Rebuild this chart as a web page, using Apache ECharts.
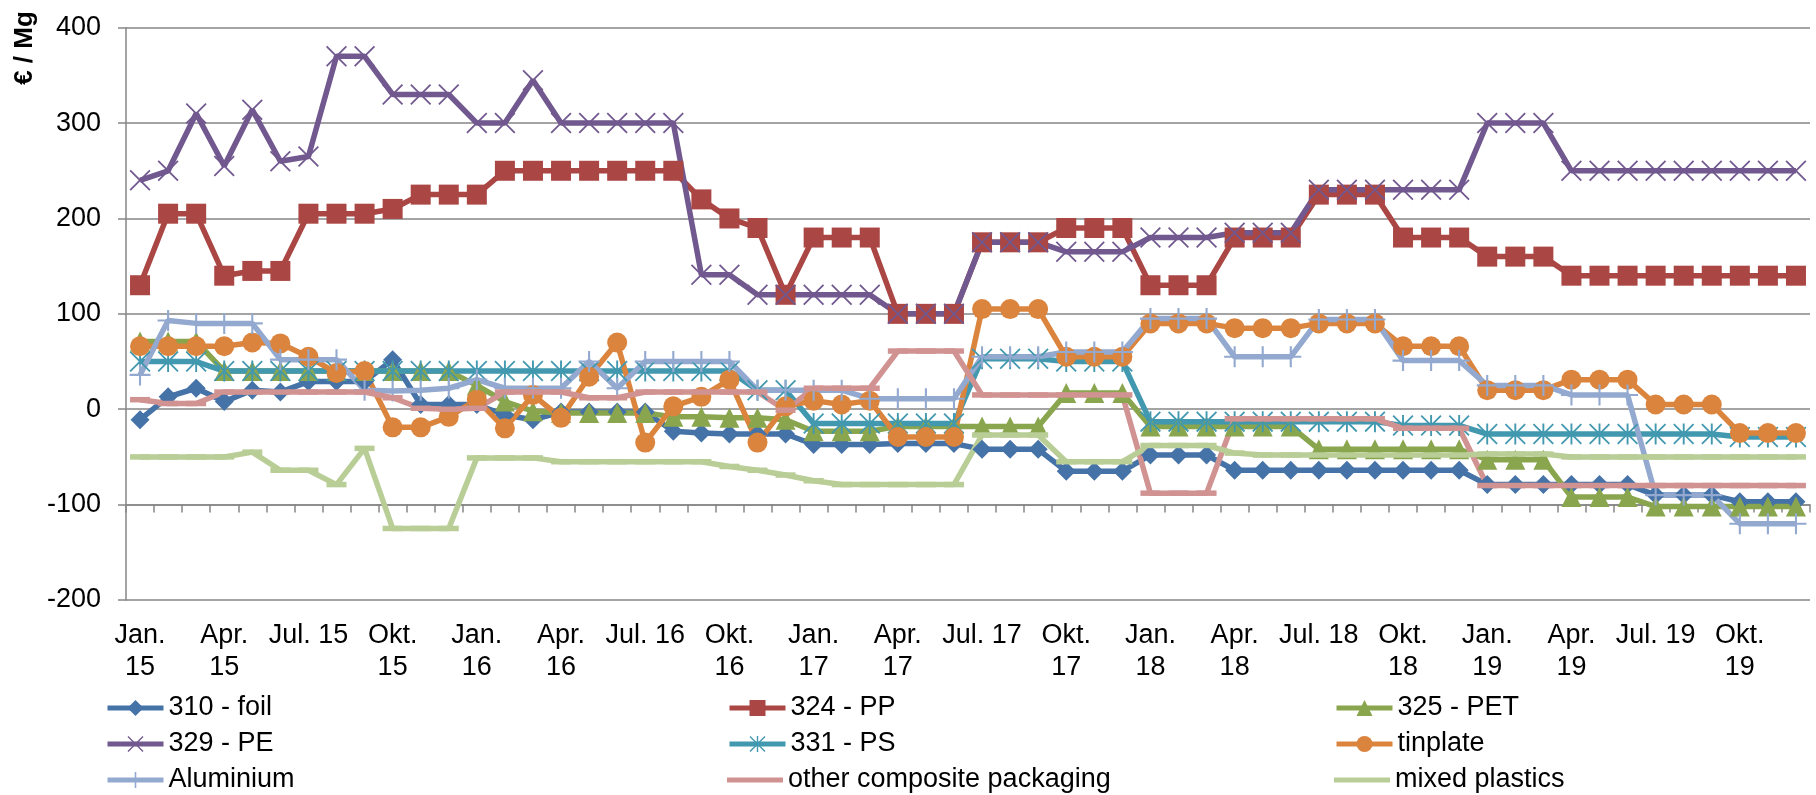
<!DOCTYPE html>
<html>
<head>
<meta charset="utf-8">
<script src="https://cdn.jsdelivr.net/npm/echarts@6/dist/echarts.min.js"></script>
<style>
html, body { margin: 0; padding: 0; background: #fff; }
#chart { width: 1816px; height: 795px; }
</style>
</head>
<body>
<div id="chart"></div>
<script>
// months Jan. 15 .. Dez. 19
const monthNames = ['Jan.', 'Feb.', 'Mär.', 'Apr.', 'Mai', 'Jun.', 'Jul.', 'Aug.', 'Sep.', 'Okt.', 'Nov.', 'Dez.'];
const years = ['15', '16', '17', '18', '19'];
const months = [];
years.forEach(y => monthNames.forEach(m => months.push(m + ' ' + y)));

// shown every 3rd month, wrapped like the original
const tickLabels = [
	'Jan.\n15', 'Apr.\n15', 'Jul. 15', 'Okt.\n15',
	'Jan.\n16', 'Apr.\n16', 'Jul. 16', 'Okt.\n16',
	'Jan.\n17', 'Apr.\n17', 'Jul. 17', 'Okt.\n17',
	'Jan.\n18', 'Apr.\n18', 'Jul. 18', 'Okt.\n18',
	'Jan.\n19', 'Apr.\n19', 'Jul. 19', 'Okt.\n19'
];

const foil = [
	-11, 13, 22, 8, 20, 18, 29, 29, 29, 52, 5, 5,
	5, -6, -11, -3, -3, -3, -3, -23, -25, -26, -26, -26,
	-37, -37, -37, -36, -36, -36, -42, -42, -42, -65, -65, -65,
	-48, -48, -48, -64, -64, -64, -64, -64, -64, -64, -64, -64,
	-79, -79, -79, -79, -79, -79, -90, -90, -90, -97, -97, -97
];
const pp = [
	130, 205, 205, 140, 145, 145, 205, 205, 205, 210, 225, 225,
	225, 250, 250, 250, 250, 250, 250, 250, 220, 200, 190, 120,
	180, 180, 180, 100, 100, 100, 175, 175, 175, 190, 190, 190,
	130, 130, 130, 180, 180, 180, 225, 225, 225, 180, 180, 180,
	160, 160, 160, 140, 140, 140, 140, 140, 140, 140, 140, 140
];
const pet = [
	71, 71, 71, 40, 40, 40, 40, 40, 40, 40, 40, 40,
	25, 8, -2, -4, -4, -4, -4, -8, -8, -9, -9, -11,
	-23, -23, -23, -18, -18, -18, -18, -18, -18, 17, 17, 17,
	-18, -18, -18, -18, -18, -18, -42, -42, -42, -42, -42, -42,
	-53, -53, -53, -92, -92, -92, -102, -102, -102, -102, -102, -102
];
const pe = [
	240, 250, 310, 255, 314, 260, 265, 370, 370, 330, 330, 330,
	300, 300, 345, 300, 300, 300, 300, 300, 141, 141, 120, 120,
	120, 120, 120, 100, 100, 100, 175, 175, 175, 165, 165, 165,
	180, 180, 180, 185, 185, 185, 230, 230, 230, 230, 230, 230,
	300, 300, 300, 250, 250, 250, 250, 250, 250, 250, 250, 250
];
const ps = [
	50, 50, 50, 40, 40, 40, 40, 40, 40, 40, 40, 40,
	40, 40, 40, 40, 40, 40, 40, 40, 40, 40, 20, 20,
	-15, -15, -15, -15, -15, -15, 53, 53, 53, 50, 50, 50,
	-13, -13, -13, -13, -13, -13, -13, -13, -13, -17, -17, -17,
	-26, -26, -26, -26, -26, -26, -26, -26, -26, -29, -29, -29
];
const tinplate = [
	66, 66, 66, 66, 70, 69, 55, 38, 40, -19, -19, -8,
	10, -20, 15, -9, 34, 70, -35, 3, 13, 31, -35, 3,
	9, 5, 9, -29, -29, -29, 105, 105, 105, 55, 55, 55,
	90, 90, 90, 85, 85, 85, 90, 90, 90, 66, 66, 66,
	20, 20, 20, 31, 31, 31, 5, 5, 5, -25, -25, -25
];
const aluminium = [
	36, 93, 90, 90, 90, 52, 52, 52, 20, 19, 20, 22,
	31, 22, 22, 22, 50, 22, 50, 50, 50, 50, 20, 20,
	20, 20, 11, 11, 11, 11, 55, 55, 55, 60, 60, 60,
	95, 95, 95, 55, 55, 55, 94, 94, 94, 51, 51, 51,
	25, 25, 25, 15, 15, 15, -90, -90, -90, -120, -120, -120
];
const otherComposite = [
	10, 6, 6, 18, 18, 18, 18, 18, 18, 12, 1, 0,
	1, 18, 18, 18, 12, 12, 18, 18, 18, 18, 18, -1,
	22, 22, 22, 61, 61, 61, 15, 15, 15, 15, 15, 15,
	-88, -88, -88, -10, -10, -10, -10, -10, -10, -20, -20, -20,
	-80, -80, -80, -80, -80, -80, -80, -80, -80, -80, -80, -80
];
const mixedPlastics = [
	-50, -50, -50, -50, -45, -64, -64, -79, -41, -125, -125, -125,
	-51, -51, -51, -55, -55, -55, -55, -55, -55, -60, -64, -69,
	-75, -79, -79, -79, -79, -79, -27, -27, -27, -55, -55, -55,
	-38, -38, -38, -46, -48, -48, -48, -48, -48, -48, -48, -48,
	-47, -47, -47, -50, -50, -50, -50, -50, -50, -50, -50, -50
];

const FONT = "'Liberation Sans', Arial, sans-serif";
const GRID_C = '#868686';

// thin line markers like excel's x, * and +
const X_PATH = 'path://M0,1.2L1.2,0L20,18.8L18.8,20Z M18.8,0L20,1.2L1.2,20L0,18.8Z';
const STAR_PATH = X_PATH + ' M9.1,0L10.9,0L10.9,20L9.1,20Z';
const PLUS_PATH = 'path://M9,0L11,0L11,20L9,20Z M0,9L20,9L20,11L0,11Z';
const LINE_ICON = 'path://M0,0L58,0L58,5L0,5Z';

const mk = (name, data, color, symbol, size) => ({
	name: name,
	type: 'line',
	data: data,
	symbol: symbol,
	symbolSize: size,
	showAllSymbol: true,
	lineStyle: { color: color, width: 5.5 },
	itemStyle: { color: color },
	emphasis: { disabled: true }
});

// legend: 3 columns x 3 rows, one legend per entry
const legendCols = [105, 727, 1334];
const legendRows = [708, 744, 780];
const legendNames = [
	['310 - foil', '324 - PP', '325 - PET'],
	['329 - PE', '331 - PS', 'tinplate'],
	['Aluminium', 'other composite packaging', 'mixed plastics']
];
const plainLine = ['other composite packaging', 'mixed plastics'];

let legends = [];
legendNames.forEach((row, r) => row.forEach((name, c) => {
	legends.push({
		left: legendCols[c],
		top: legendRows[r] - 14,
		itemWidth: 56,
		itemHeight: 20,
		padding: 0,
		lineStyle: { width: 5 },
		data: [plainLine.includes(name) ? { name: name, icon: LINE_ICON } : name],
		textStyle: { fontFamily: FONT, fontSize: 27, lineHeight: 28, color: '#000' }
	});
}));

let chart = echarts.init(document.getElementById('chart'));

let option = {
	animation: false,
	backgroundColor: '#fff',
	grid: { left: 126, right: 6, top: 27.7, bottom: 195, containLabel: false },
	legend: legends,
	graphic: [{
		type: 'text',
		x: 25,
		y: 48,
		rotation: Math.PI / 2,
		style: {
			text: '€ / Mg',
			font: "bold 26px 'Liberation Sans', Arial, sans-serif",
			fill: '#000',
			textAlign: 'center',
			textVerticalAlign: 'middle'
		}
	}],
	xAxis: [{
		type: 'category',
		data: months,
		boundaryGap: true,
		axisLine: { show: false },
		axisTick: { show: false },
		splitLine: { show: false },
		axisLabel: {
			interval: 2,
			margin: 20,
			fontFamily: FONT,
			fontSize: 27,
			lineHeight: 32,
			color: '#000',
			formatter: (v, i) => tickLabels[Math.round(i / 3)]
		}
	}, {
		// axis line sits on -100, like in the excel original
		type: 'category',
		data: months,
		boundaryGap: true,
		position: 'bottom',
		offset: -95.4,
		axisLine: { show: true, lineStyle: { color: GRID_C, width: 1.5 } },
		axisTick: { show: true, interval: 0, length: 8, lineStyle: { color: GRID_C, width: 1.5 } },
		axisLabel: { show: false },
		splitLine: { show: false }
	}],
	yAxis: {
		type: 'value',
		min: -200,
		max: 400,
		interval: 100,
		axisLine: { show: true, lineStyle: { color: GRID_C, width: 1.5 } },
		axisTick: { show: true, length: 8, lineStyle: { color: GRID_C, width: 1.5 } },
		splitLine: { show: true, lineStyle: { color: GRID_C, width: 1.5 } },
		axisLabel: { margin: 25, fontFamily: FONT, fontSize: 27, color: '#000' }
	},
	series: [
		mk('310 - foil', foil, '#4572A7', 'diamond', 19),
		mk('324 - PP', pp, '#AA4643', 'rect', 20),
		mk('325 - PET', pet, '#89A54E', 'triangle', 20),
		mk('329 - PE', pe, '#71588F', X_PATH, 21),
		mk('331 - PS', ps, '#4198AF', STAR_PATH, 21),
		mk('tinplate', tinplate, '#DB843D', 'circle', 20),
		mk('Aluminium', aluminium, '#93A9CF', PLUS_PATH, 21),
		mk('other composite packaging', otherComposite, '#D19392', 'rect', [20, 5.5]),
		mk('mixed plastics', mixedPlastics, '#B9CD96', 'rect', [20, 5.5])
	]
};

chart.setOption(option);
</script>
</body>
</html>
